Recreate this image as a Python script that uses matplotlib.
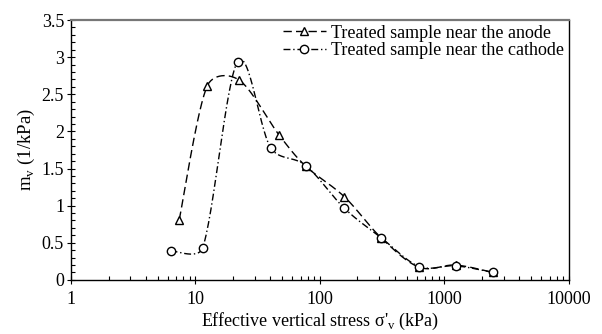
import numpy as np
import matplotlib
matplotlib.use("Agg")
from matplotlib import pyplot as plt
from matplotlib.ticker import MultipleLocator, LogLocator, NullFormatter, FixedFormatter, FixedLocator

# data
anode_stress = [7.4, 12.4, 22.5, 47, 77, 157, 309, 628, 1230, 2460]
anode_mv = [0.81, 2.61, 2.69, 1.95, 1.53, 1.12, 0.57, 0.17, 0.20, 0.10]
cathode_stress = [6.3, 11.4, 21.8, 40.2, 77, 157, 309, 628, 1230, 2460]
cathode_mv = [0.39, 0.43, 2.94, 1.78, 1.54, 0.965, 0.57, 0.18, 0.19, 0.10]
labels = ["Treated sample near the anode", "Treated sample near the cathode"]
x_ticks = [1, 10, 100, 1000, 10000]

plt.rcParams['font.family'] = ['Liberation Serif', 'DejaVu Serif']
plt.rcParams['font.size'] = 13


def smooth(ax, xs, ys, n=30, f=0.4):
    # smoothed line in screen space: catmull-rom tangents, capped by segment length
    pts = ax.transData.transform(np.column_stack([xs, ys]))
    m = len(pts)
    tang = [(pts[min(i + 1, m - 1)] - pts[max(i - 1, 0)]) / 6 for i in range(m)]
    out = []
    t = np.linspace(0, 1, n)[:, None]
    for i in range(m - 1):
        p1, p2 = pts[i], pts[i + 1]
        L = np.hypot(*(p2 - p1)) * f
        t1, t2 = tang[i], tang[i + 1]
        t1 = t1 * min(1, L / np.hypot(*t1))
        t2 = t2 * min(1, L / np.hypot(*t2))
        c1 = p1 + t1
        c2 = p2 - t2
        seg = (1 - t) ** 3 * p1 + 3 * (1 - t) ** 2 * t * c1 + 3 * (1 - t) * t ** 2 * c2 + t ** 3 * p2
        out.append(seg if i == 0 else seg[1:])
    path = ax.transData.inverted().transform(np.vstack(out))
    return path[:, 0], path[:, 1]


fig = plt.figure(figsize=(6.02, 3.34), dpi=100)
ax = fig.add_axes([0.118, 0.162, 0.827, 0.778])
ax.set_xscale('log')
ax.set_xlim(1, 10000)
ax.set_ylim(0, 3.5)

styles = [
    dict(x=anode_stress, y=anode_mv, ls=(0, (6, 3)), marker='^'),
    dict(x=cathode_stress, y=cathode_mv, ls=(0, (5, 2, 1, 2)), marker='o'),
]
for s, lab in zip(styles, labels):
    sx, sy = smooth(ax, s['x'], s['y'])
    ax.plot(sx, sy, color='black', lw=1.0, linestyle=s['ls'])
    ax.plot(s['x'], s['y'], linestyle='none', marker=s['marker'], ms=6,
            mfc='white', mec='black', mew=1.0)
    ax.plot([], [], color='black', lw=1.0, linestyle=s['ls'], marker=s['marker'],
            ms=6, mfc='white', mec='black', mew=1.0, label=lab)

ax.xaxis.set_major_locator(FixedLocator(x_ticks))
ax.xaxis.set_major_formatter(FixedFormatter([str(v) for v in x_ticks]))
ax.xaxis.set_minor_locator(LogLocator(base=10, subs=np.arange(2, 10)))
ax.xaxis.set_minor_formatter(NullFormatter())
ax.yaxis.set_minor_locator(MultipleLocator(0.1))
ax.set_yticks([0, 0.5, 1, 1.5, 2, 2.5, 3, 3.5])
ax.set_yticklabels(['0', '0.5', '1', '1.5', '2', '2.5', '3', '3.5'])

ax.tick_params(which='major', direction='inout', length=6, width=0.8, labelsize=13)
ax.tick_params(which='minor', direction='in', length=3, width=0.8)
ax.tick_params(axis='x', pad=5)
ax.tick_params(axis='y', pad=2)

ax.spines['top'].set_color('#777777')
ax.spines['top'].set_linewidth(1.6)
for side in ['left', 'bottom', 'right']:
    ax.spines[side].set_linewidth(1.0)

ax.set_xlabel("Effective vertical stress \u03c3'$_\\mathregular{v}$ (kPa)", labelpad=2, fontsize=13)
ax.set_ylabel("m$_\\mathregular{v}$ (1/kPa)", labelpad=3, fontsize=13.5)

ax.legend(loc='upper right', frameon=False, handlelength=2.4, handletextpad=0.3,
          borderaxespad=0.05, borderpad=0.2, labelspacing=0.05, fontsize=13)

fig.savefig("out.png", dpi=100)
